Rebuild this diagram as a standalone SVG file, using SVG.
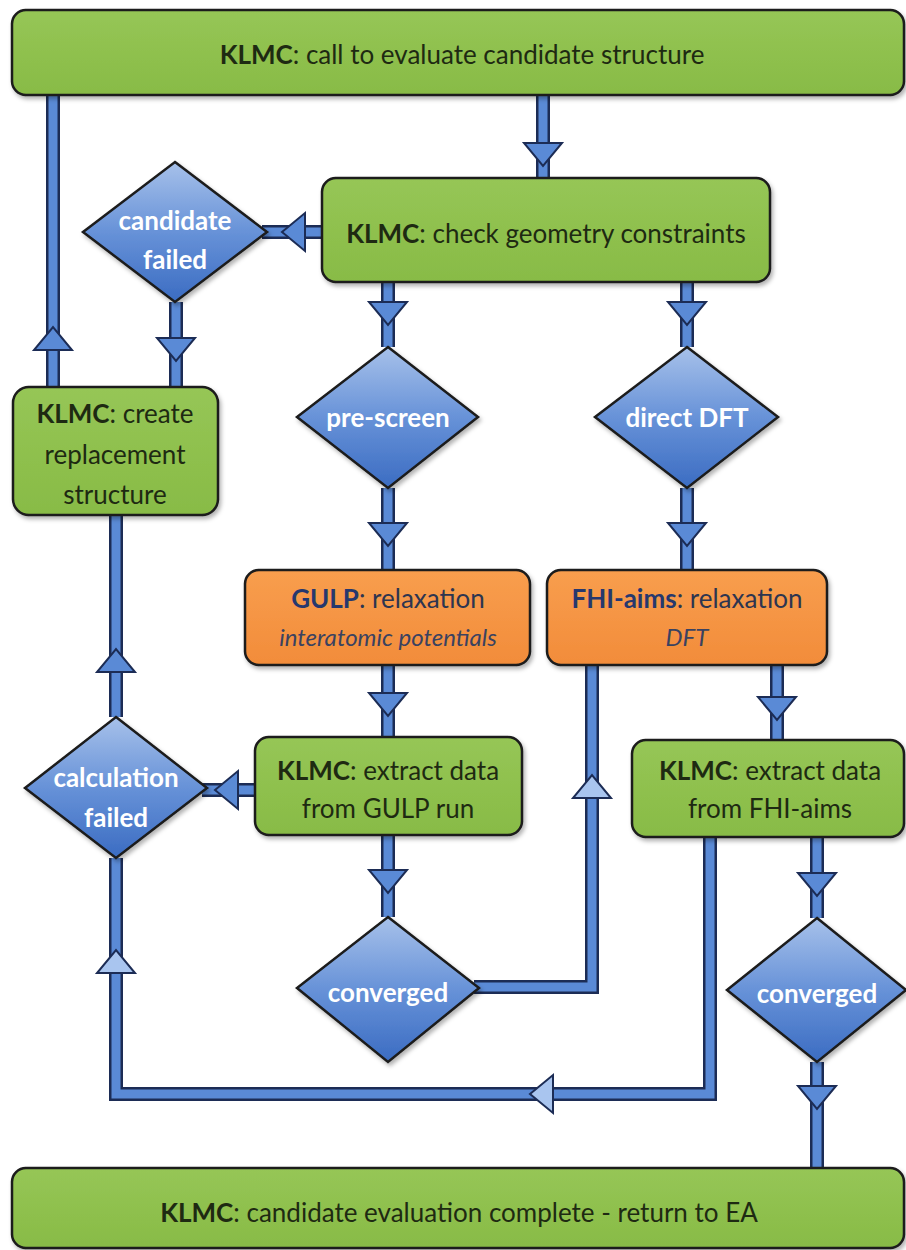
<svg xmlns="http://www.w3.org/2000/svg" xmlns:xlink="http://www.w3.org/1999/xlink" width="906" height="1250" viewBox="0 0 906 1250">
<style>
.box{stroke:#1b1b1b;stroke-width:2.5;filter:url(#sh)}
.green{fill:url(#gg)}
.orange{fill:url(#go)}
.dia{fill:url(#gb);stroke:#1b1b1b;stroke-width:2.5;filter:url(#sh)}
.t{font-family:Lato,"Liberation Sans",sans-serif;font-size:26px;fill:#1e2a12;text-anchor:middle}
.b{font-weight:bold}
.w{font-family:Lato,"Liberation Sans",sans-serif;font-size:26px;font-weight:bold;fill:#ffffff;text-anchor:middle}
.o{font-family:Lato,"Liberation Sans",sans-serif;font-size:26px;fill:#2d3550;text-anchor:middle}
.nb{font-weight:bold;fill:#26386e}
.it{font-style:italic;font-size:24px;fill:#3a4260}
.so{fill:none;stroke:#1c2c55;stroke-width:14;stroke-linejoin:miter}
.si{fill:none;stroke:#5a8ad6;stroke-width:9;stroke-linejoin:miter}
.ah{fill:#5a8ad6;stroke:#1c2c55;stroke-width:2;stroke-linejoin:miter}
.al{fill:#a9c5ef;stroke:#1c2c55;stroke-width:2;stroke-linejoin:miter}
</style>
<defs>
<linearGradient id="gg" x1="0" y1="0" x2="0" y2="1"><stop offset="0" stop-color="#96c656"/><stop offset="1" stop-color="#88bb46"/></linearGradient>
<linearGradient id="go" x1="0" y1="0" x2="0" y2="1"><stop offset="0" stop-color="#f89e4e"/><stop offset="1" stop-color="#f28c3a"/></linearGradient>
<linearGradient id="gb" x1="0" y1="0" x2="0" y2="1"><stop offset="0" stop-color="#a7c1ea"/><stop offset="0.5" stop-color="#6792d8"/><stop offset="1" stop-color="#3b6cc2"/></linearGradient>
<filter id="sh" x="-10%" y="-10%" width="120%" height="130%"><feDropShadow dx="2" dy="3" stdDeviation="2" flood-color="#000" flood-opacity="0.3"/></filter>
<path id="hd" d="M-19,0 L19,0 L0,23 Z"/>
</defs>

<g id="connectors">
<path class="so" d="M543,95 V178"/><path class="si" d="M543,95 V178"/>
<path class="so" d="M322,232 H262"/><path class="si" d="M322,232 H262"/>
<path class="so" d="M176,302 V387"/><path class="si" d="M176,302 V387"/>
<path class="so" d="M53,387 V95"/><path class="si" d="M53,387 V95"/>
<path class="so" d="M388,282 V347"/><path class="si" d="M388,282 V347"/>
<path class="so" d="M687,282 V347"/><path class="si" d="M687,282 V347"/>
<path class="so" d="M388,488 V570"/><path class="si" d="M388,488 V570"/>
<path class="so" d="M687,488 V570"/><path class="si" d="M687,488 V570"/>
<path class="so" d="M388,665 V737"/><path class="si" d="M388,665 V737"/>
<path class="so" d="M255,790 H202"/><path class="si" d="M255,790 H202"/>
<path class="so" d="M116,717 V515"/><path class="si" d="M116,717 V515"/>
<path class="so" d="M388,835 V917"/><path class="si" d="M388,835 V917"/>
<path class="so" d="M474,987 H592 V665"/><path class="si" d="M474,987 H592 V665"/>
<path class="so" d="M777,665 V740"/><path class="si" d="M777,665 V740"/>
<path class="so" d="M817,837 V918"/><path class="si" d="M817,837 V918"/>
<path class="so" d="M710,837 V1094 H116 V858"/><path class="si" d="M710,837 V1094 H116 V858"/>
<path class="so" d="M817,1062 V1168"/><path class="si" d="M817,1062 V1168"/>
<use href="#hd" class="ah" transform="translate(543,143)"/>
<use href="#hd" class="ah" transform="translate(305,232) rotate(90)"/>
<use href="#hd" class="ah" transform="translate(176,338)"/>
<use href="#hd" class="ah" transform="translate(53,350) rotate(180)"/>
<use href="#hd" class="ah" transform="translate(388,302)"/>
<use href="#hd" class="ah" transform="translate(687,302)"/>
<use href="#hd" class="ah" transform="translate(388,523)"/>
<use href="#hd" class="ah" transform="translate(687,523)"/>
<use href="#hd" class="ah" transform="translate(388,693)"/>
<use href="#hd" class="ah" transform="translate(238,790) rotate(90)"/>
<use href="#hd" class="ah" transform="translate(116,672) rotate(180)"/>
<use href="#hd" class="ah" transform="translate(388,870)"/>
<use href="#hd" class="al" transform="translate(592,798) rotate(180)"/>
<use href="#hd" class="ah" transform="translate(777,697)"/>
<use href="#hd" class="ah" transform="translate(817,873)"/>
<use href="#hd" class="al" transform="translate(553,1094) rotate(90)"/>
<use href="#hd" class="al" transform="translate(116,973) rotate(180)"/>
<use href="#hd" class="ah" transform="translate(817,1086)"/>
</g>

<g id="n-top">
<rect class="box green" x="12" y="10" width="892" height="85" rx="14"/>
<text class="t" x="462" y="64"><tspan class="b">KLMC</tspan>: call to evaluate candidate structure</text>
</g>
<g id="n-check">
<rect class="box green" x="322" y="178" width="448" height="104" rx="14"/>
<text class="t" x="546" y="243" font-size="27"><tspan class="b">KLMC</tspan>: check geometry constraints</text>
</g>
<g id="n-candfail">
<polygon class="dia" points="175,162 267,232 175,302 83,232"/>
<text class="w" x="175" y="230">candidate</text>
<text class="w" x="175" y="269">failed</text>
</g>
<g id="n-replace">
<rect class="box green" x="13" y="387" width="205" height="128" rx="16"/>
<text class="t" x="115" y="423"><tspan class="b">KLMC</tspan>: create</text>
<text class="t" x="115" y="464">replacement</text>
<text class="t" x="115" y="504">structure</text>
</g>
<g id="n-prescreen">
<polygon class="dia" points="388,347 478,417 388,488 297,417"/>
<text class="w" x="388" y="427">pre-screen</text>
</g>
<g id="n-directdft">
<polygon class="dia" points="687,347 778,417 687,488 595,417"/>
<text class="w" x="687" y="427">direct DFT</text>
</g>
<g id="n-gulp">
<rect class="box orange" x="245" y="570" width="285" height="95" rx="14"/>
<text class="o" x="388" y="608"><tspan class="nb">GULP</tspan>: relaxation</text>
<text class="o it" x="388" y="646">interatomic potentials</text>
</g>
<g id="n-fhi">
<rect class="box orange" x="547" y="570" width="280" height="95" rx="14"/>
<text class="o" x="687" y="608"><tspan class="nb">FHI-aims</tspan>: relaxation</text>
<text class="o it" x="687" y="646">DFT</text>
</g>
<g id="n-extgulp">
<rect class="box green" x="255" y="737" width="267" height="98" rx="14"/>
<text class="t" x="388" y="780"><tspan class="b">KLMC</tspan>: extract data</text>
<text class="t" x="388" y="818">from GULP run</text>
</g>
<g id="n-calcfail">
<polygon class="dia" points="116,717 207,788 116,858 25,788"/>
<text class="w" x="116" y="787">calculation</text>
<text class="w" x="116" y="827">failed</text>
</g>
<g id="n-extfhi">
<rect class="box green" x="632" y="740" width="272" height="97" rx="14"/>
<text class="t" x="770" y="780"><tspan class="b">KLMC</tspan>: extract data</text>
<text class="t" x="770" y="818">from FHI-aims</text>
</g>
<g id="n-conv1">
<polygon class="dia" points="388,917 479,988 388,1062 297,988"/>
<text class="w" x="388" y="1002">converged</text>
</g>
<g id="n-conv2">
<polygon class="dia" points="817,918 906,990 817,1062 727,990"/>
<text class="w" x="817" y="1003">converged</text>
</g>
<g id="n-bottom">
<rect class="box green" x="12" y="1168" width="892" height="80" rx="14"/>
<text class="t" x="459" y="1222"><tspan class="b">KLMC</tspan>: candidate evaluation complete - return to EA</text>
</g>
</svg>
